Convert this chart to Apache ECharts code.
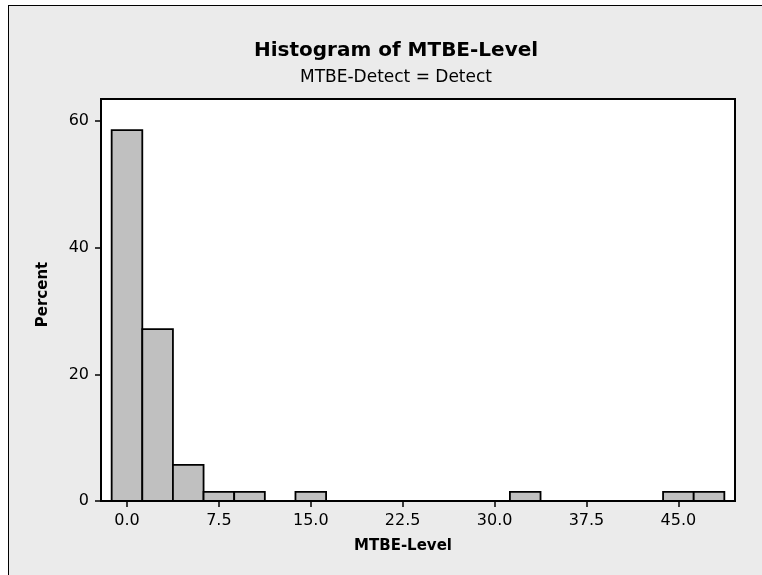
<!DOCTYPE html>
<html>
<head>
<meta charset="utf-8">
<script src="https://cdn.jsdelivr.net/npm/echarts@6/dist/echarts.min.js"></script>
<style>
  html, body { margin: 0; padding: 0; background: #ffffff; }
  #wrap { position: relative; width: 762px; height: 575px; overflow: hidden; }
  #bg { position: absolute; left: 8px; top: 5px; width: 800px; height: 600px;
        background: #ebebeb; border-left: 1px solid #000; border-top: 1px solid #000; }
  #chart { position: absolute; left: 0; top: 0; width: 762px; height: 575px; }
</style>
</head>
<body>
<div id="wrap"><div id="bg"></div><div id="chart"></div></div>
<script>
// ---- data ----
var binCenters = [0, 2.5, 5, 7.5, 10, 15, 32.5, 45, 47.5];
var percents   = [58.57, 27.14, 5.71, 1.43, 1.43, 1.43, 1.43, 1.43, 1.43];
var binWidth = 2.5;
var xTicks = [0, 7.5, 15, 22.5, 30, 37.5, 45];
var yTicks = [0, 20, 40, 60];
var titleText = 'Histogram of MTBE-Level';
var subtitleText = 'MTBE-Detect = Detect';
var xName = 'MTBE-Level';
var yName = 'Percent';

var data = binCenters.map(function (c, i) { return [c, percents[i]]; });

var chart = echarts.init(document.getElementById('chart'), null, { renderer: 'canvas' });
var font = 'DejaVu Sans';
chart.setOption({
  backgroundColor: 'transparent',
  animation: false,
  title: [
    { text: titleText, left: 391, top: 36, textAlign: 'center',
      textStyle: { fontFamily: font, fontWeight: 'bold', fontSize: 20, color: '#000', lineHeight: 20 } },
    { text: subtitleText, left: 391, top: 64, textAlign: 'center',
      textStyle: { fontFamily: font, fontWeight: 'normal', fontSize: 17, color: '#000', lineHeight: 17 } }
  ],
  grid: { left: 101, top: 99, right: 27, bottom: 74, show: true,
          backgroundColor: '#ffffff', borderColor: '#000', borderWidth: 2 },
  xAxis: {
    type: 'value', min: -2.12, max: 49.62,
    name: xName, nameLocation: 'middle', nameGap: 38,
    nameTextStyle: { fontFamily: font, fontWeight: 'bold', fontSize: 15, color: '#000', padding: [0, 30, 0, 0] },
    axisLine: { show: false, onZero: false },
    splitLine: { show: false },
    axisTick: { show: true, inside: false, length: 6, customValues: xTicks,
                lineStyle: { color: '#000', width: 1.5 } },
    axisLabel: { customValues: xTicks, margin: 12, fontFamily: font, fontSize: 16, color: '#000',
                 formatter: function (v) { return v.toFixed(1); } }
  },
  yAxis: {
    type: 'value', min: 0, max: 63.5,
    name: yName, nameLocation: 'middle', nameGap: 50, nameRotate: 90,
    nameTextStyle: { fontFamily: font, fontWeight: 'bold', fontSize: 15, color: '#000', padding: [0, 0, 0, 11] },
    axisLine: { show: false, onZero: false },
    splitLine: { show: false },
    axisTick: { show: true, inside: false, length: 6, customValues: yTicks,
                lineStyle: { color: '#000', width: 1.5 } },
    axisLabel: { customValues: yTicks, margin: 12, fontFamily: font, fontSize: 16, color: '#000' }
  },
  series: [{
    type: 'custom',
    data: data,
    renderItem: function (params, api) {
      var c = api.value(0), v = api.value(1);
      var p0 = api.coord([c - binWidth / 2, v]);
      var p1 = api.coord([c + binWidth / 2, 0]);
      return {
        type: 'rect',
        shape: { x: p0[0], y: p0[1], width: p1[0] - p0[0], height: p1[1] - p0[1] },
        style: { fill: '#c0c0c0', stroke: '#000', lineWidth: 1.8 }
      };
    },
    encode: { x: 0, y: 1 }
  }]
});
</script>
</body>
</html>
